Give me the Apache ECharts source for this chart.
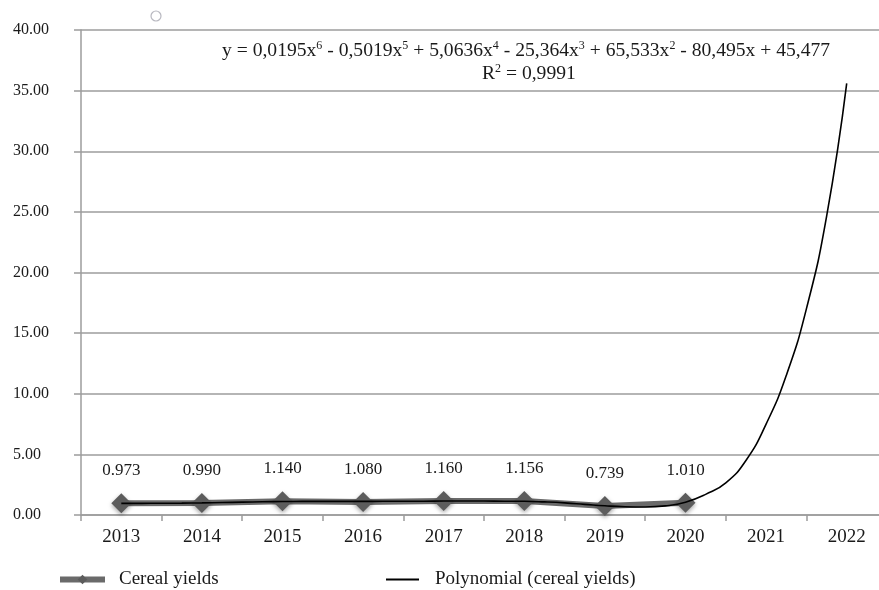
<!DOCTYPE html>
<html>
<head>
<meta charset="utf-8">
<script src="https://cdn.jsdelivr.net/npm/echarts@6/dist/echarts.min.js"></script>
<style>
  html, body { margin: 0; padding: 0; background: #fff; }
  #main { width: 879px; height: 590px; }
</style>
</head>
<body>
<div id="main"></div>
<script>
// categories and values
const years = ['2013', '2014', '2015', '2016', '2017', '2018', '2019', '2020', '2021', '2022'];
const cerealYields = [0.973, 0.990, 1.140, 1.080, 1.160, 1.156, 0.739, 1.010];
const yTicks = [0, 5, 10, 15, 20, 25, 30, 35, 40];

// trend line, every quarter year: [year, value]
const trendX = [2013, 2013.25, 2013.5, 2013.75, 2014, 2014.25, 2014.5, 2014.75, 2015, 2015.25, 2015.5, 2015.75,
  2016, 2016.25, 2016.5, 2016.75, 2017, 2017.25, 2017.5, 2017.75, 2018, 2018.25, 2018.5, 2018.75,
  2019, 2019.25, 2019.5, 2019.75, 2020, 2020.25, 2020.5, 2020.75, 2021, 2021.25, 2021.5, 2021.75, 2022];
const trendY = [0.96, 0.96, 0.97, 0.98, 1.00, 1.03, 1.06, 1.09, 1.11, 1.12, 1.12, 1.12,
  1.12, 1.13, 1.13, 1.14, 1.15, 1.15, 1.15, 1.14, 1.13, 1.08, 1.00, 0.88,
  0.76, 0.68, 0.66, 0.75, 1.05, 1.7, 2.65, 4.5, 7.5, 11.5, 17.0, 24.6, 35.6];

const equation = 'y = 0,0195x{s|6} - 0,5019x{s|5} + 5,0636x{s|4} - 25,364x{s|3} + 65,533x{s|2} - 80,495x + 45,477';
const rSquared = 'R{s|2} = 0,9991';

const serif = 'Liberation Serif';
const textColor = '#1a1a1a';
const gridColor = '#9c9c9c';

const chart = echarts.init(document.getElementById('main'));

const eqRich = {
  s: { fontSize: 12, fontFamily: serif, verticalAlign: 'top', lineHeight: 12, fill: textColor }
};

chart.setOption({
  animation: false,
  backgroundColor: '#fff',
  grid: { left: 81, top: 30, width: 806, height: 485, outerBoundsMode: 'none' },
  legend: [
    {
      data: ['Cereal yields'],
      left: 57, top: 570, padding: 0,
      itemWidth: 45, itemHeight: 12,
      lineStyle: { width: 6 },
      textStyle: { fontFamily: serif, fontSize: 19, color: textColor, padding: [0, 0, 0, 9] }
    },
    {
      data: [{ name: 'Polynomial (cereal yields)', icon: 'rect' }],
      left: 386, top: 570, padding: 0,
      itemWidth: 33, itemHeight: 2,
      textStyle: { fontFamily: serif, fontSize: 19, color: textColor, padding: [0, 0, 0, 11] }
    }
  ],
  xAxis: [
    {
      type: 'category',
      data: years,
      axisLine: { lineStyle: { color: gridColor, width: 1.5 } },
      axisTick: { show: true, length: 6, lineStyle: { color: gridColor, width: 1.5 } },
      axisLabel: { fontFamily: serif, fontSize: 19, color: textColor, margin: 13 }
    },
    { type: 'value', min: 2012.5, max: 2022.5, show: false }
  ],
  yAxis: {
    type: 'value',
    min: yTicks[0],
    max: yTicks[yTicks.length - 1],
    interval: 5,
    axisLine: { show: true, lineStyle: { color: gridColor, width: 1.5 } },
    axisTick: { show: true, length: 7, lineStyle: { color: gridColor, width: 1.5 } },
    splitLine: { lineStyle: { color: gridColor, width: 1.5 } },
    axisLabel: {
      fontFamily: serif, fontSize: 16, color: textColor,
      align: 'left', margin: 68,
      formatter: v => v.toFixed(2)
    }
  },
  series: [
    {
      name: 'Cereal yields',
      type: 'line',
      data: cerealYields,
      symbol: 'diamond',
      symbolSize: 20,
      lineStyle: { color: '#6a6a6a', width: 6 },
      itemStyle: {
        color: '#5c5c5c',
        shadowBlur: 4, shadowColor: 'rgba(0,0,0,0.35)', shadowOffsetY: 2
      },
      label: {
        show: true, position: 'top', distance: 14,
        fontFamily: serif, fontSize: 17, color: textColor,
        formatter: p => p.value.toFixed(3)
      },
      z: 2
    },
    {
      name: 'Polynomial (cereal yields)',
      type: 'line',
      xAxisIndex: 1,
      data: trendX.map((x, i) => [x, trendY[i]]),
      showSymbol: false,
      symbol: 'none',
      smooth: 0.5,
      lineStyle: { color: '#000', width: 1.6 },
      itemStyle: { color: '#000' },
      z: 3
    }
  ],
  graphic: [
    {
      type: 'text', left: 222, top: 40,
      style: { text: equation, fontFamily: serif, fontSize: 19.6, fill: textColor, lineHeight: 22, rich: eqRich }
    },
    {
      type: 'text', left: 482, top: 63,
      style: { text: rSquared, fontFamily: serif, fontSize: 19.6, fill: textColor, lineHeight: 22, rich: eqRich }
    },
    {
      type: 'circle', shape: { cx: 156, cy: 16, r: 5 },
      style: { fill: 'none', stroke: '#b8b8c0', lineWidth: 1.2 }
    }
  ]
});
</script>
</body>
</html>
